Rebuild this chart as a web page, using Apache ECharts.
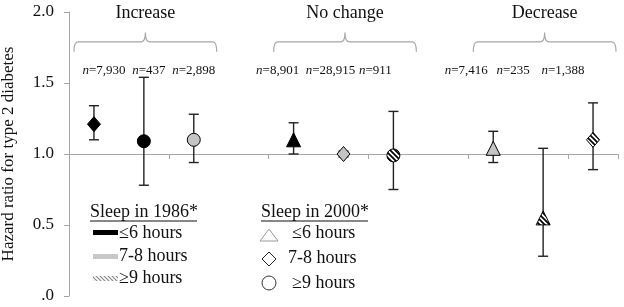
<!DOCTYPE html>
<html>
<head>
<meta charset="utf-8">
<script src="https://cdn.jsdelivr.net/npm/echarts@6/dist/echarts.min.js"></script>
<style>
html,body{margin:0;padding:0;background:#fff;}
#chart{width:624px;height:307px;}
</style>
</head>
<body>
<div id="chart"></div>
<script>
// ---- data ----
const categories = ['Inc ≤6→7-8', 'Inc ≤6→≥9', 'Inc 7-8→≥9', 'gap A',
                    'NC ≤6→≤6', 'NC 7-8→7-8', 'NC ≥9→≥9', 'gap B',
                    'Dec 7-8→≤6', 'Dec ≥9→≤6', 'Dec ≥9→7-8'];
const pointIndex = [0, 1, 2, 4, 5, 6, 8, 9, 10];
const hr = [1.21, 1.09, 1.10, 1.10, 1.00, 0.99, 1.04, 0.55, 1.10];
const lo = [1.10, 0.78, 0.94, 1.00, 0.98, 0.75, 0.94, 0.28, 0.89];
const hi = [1.34, 1.54, 1.28, 1.22, 1.02, 1.30, 1.16, 1.04, 1.36];
const sleep1986 = ['≤6', '≤6', '7-8', '≤6', '7-8', '≥9', '7-8', '≥9', '≥9'];
const sleep2000 = ['7-8', '≥9', '≥9', '≤6', '7-8', '≥9', '≤6', '≤6', '7-8'];
const nCounts = ['7,930', '437', '2,898', '8,901', '28,915', '911', '7,416', '235', '1,388'];
const groups = ['Increase', 'No change', 'Decrease'];
const groupStart = [0, 4, 8];
const groupEnd = [2, 6, 10];
const yTicks = [0, 0.5, 1.0, 1.5, 2.0];

// ---- layout / style (not data) ----
const nLabelShift = [10, 5, 0, -16, -13, -18, -27, -30, -30];
const FONT = "'Liberation Serif', 'Times New Roman', serif";
const GRAY = '#a6a6a6';

function makeHatch(color, size, lw) {
  const c = document.createElement('canvas');
  c.width = size; c.height = size;
  const g = c.getContext('2d');
  g.fillStyle = '#fff'; g.fillRect(0, 0, size, size);
  g.strokeStyle = color; g.lineWidth = lw;
  g.beginPath();
  g.moveTo(-1, -1); g.lineTo(size + 1, size + 1);
  g.moveTo(-1, size - 1); g.lineTo(1, size + 1);
  g.moveTo(size - 1, -1); g.lineTo(size + 1, 1);
  g.stroke();
  return c;
}
const hatch = { image: makeHatch('#000', 5, 1.7), repeat: 'repeat' };
const hatchLegend = { image: makeHatch('#888', 4, 1.1), repeat: 'repeat' };

const fillBy1986 = { '≤6': '#000000', '7-8': '#c4c4c4', '≥9': hatch };
const sizeBy2000 = { '≤6': [14, 14], '7-8': [13, 15], '≥9': [13, 13] };

function markerShape(kind, x, y, w, h) {
  if (kind === '≤6') {
    return { type: 'polygon', shape: { points: [[x - w / 2, y + h / 2], [x + w / 2, y + h / 2], [x, y - h / 2]] } };
  }
  if (kind === '7-8') {
    return { type: 'polygon', shape: { points: [[x, y - h / 2], [x + w / 2, y], [x, y + h / 2], [x - w / 2, y]] } };
  }
  return { type: 'circle', shape: { cx: x, cy: y, r: w / 2 } };
}

const chart = echarts.init(document.getElementById('chart'), null, { renderer: 'canvas' });

const gridTop = 12, gridBottom = 11;
const gridH = 307 - gridTop - gridBottom;
const yMin = 0, yMax = 2;

const option = {
  animation: false,
  grid: { left: 69, right: 6, top: gridTop, bottom: gridBottom, containLabel: false, outerBoundsMode: 'none' },
  xAxis: {
    type: 'category',
    data: categories,
    boundaryGap: true,
    offset: -gridH * (1.0 - yMin) / (yMax - yMin),
    axisLine: { show: true, lineStyle: { color: GRAY, width: 1 } },
    axisTick: { show: true, interval: 1, length: 5, lineStyle: { color: GRAY } },
    axisLabel: { show: false },
    splitLine: { show: false }
  },
  yAxis: {
    type: 'value',
    min: yMin, max: yMax, interval: 0.5,
    name: 'Hazard ratio for type 2 diabetes',
    nameLocation: 'middle',
    nameRotate: 90,
    nameGap: 52,
    nameTextStyle: { fontFamily: FONT, fontSize: 17, color: '#111' },
    axisLine: { show: true, lineStyle: { color: GRAY } },
    axisTick: { show: true, length: 5, lineStyle: { color: GRAY } },
    splitLine: { show: false },
    axisLabel: {
      fontFamily: FONT, fontSize: 17, color: '#111', margin: 15,
      formatter: v => (v === 0 ? '.0' : v.toFixed(1))
    }
  },
  series: [
    {
      type: 'custom',
      name: 'ci',
      z: 2,
      data: pointIndex.map((c, i) => [c, lo[i], hi[i]]),
      renderItem: function (params, api) {
        const pLo = api.coord([api.value(0), api.value(1)]);
        const pHi = api.coord([api.value(0), api.value(2)]);
        const cap = 5;
        const st = { stroke: '#222', lineWidth: 1.4 };
        return {
          type: 'group',
          children: [
            { type: 'line', shape: { x1: pLo[0], y1: pLo[1], x2: pHi[0], y2: pHi[1] }, style: st },
            { type: 'line', shape: { x1: pLo[0] - cap, y1: pLo[1], x2: pLo[0] + cap, y2: pLo[1] }, style: st },
            { type: 'line', shape: { x1: pHi[0] - cap, y1: pHi[1], x2: pHi[0] + cap, y2: pHi[1] }, style: st }
          ]
        };
      }
    },
    {
      type: 'custom',
      name: 'hr',
      z: 3,
      data: pointIndex.map((c, i) => [c, hr[i], i]),
      renderItem: function (params, api) {
        const i = api.value(2);
        const p = api.coord([api.value(0), api.value(1)]);
        const sz = sizeBy2000[sleep2000[i]];
        const el = markerShape(sleep2000[i], p[0], p[1], sz[0], sz[1]);
        el.style = { fill: fillBy1986[sleep1986[i]], stroke: '#000', lineWidth: 1 };
        return el;
      }
    },
    {
      type: 'custom',
      name: 'nlabels',
      z: 4,
      data: pointIndex.map((c, i) => [c, i]),
      renderItem: function (params, api) {
        const i = api.value(1);
        const p = api.coord([api.value(0), 1.59]);
        return {
          type: 'text',
          style: {
            text: '{i|n}=' + nCounts[i],
            x: p[0] + nLabelShift[i], y: p[1],
            align: 'center', verticalAlign: 'middle',
            font: '13px ' + FONT, fill: '#111',
            rich: { i: { fontStyle: 'italic', fontFamily: FONT, fontSize: 13, color: '#111' } }
          }
        };
      }
    },
    {
      type: 'custom',
      name: 'groups',
      z: 4,
      data: groups.map((g, k) => [groupStart[k], groupEnd[k], k]),
      renderItem: function (params, api) {
        const s = api.value(0), e = api.value(1), k = api.value(2);
        const band = api.size([1, 0])[0];
        const x0 = api.coord([s, 1.79])[0] - band / 2 + 5;
        const x1 = api.coord([e, 1.79])[0] + band / 2 - 2;
        const xc = (x0 + x1) / 2;
        const yTop = api.coord([s, 1.79])[1];
        const yTip = api.coord([s, 1.72])[1];
        const yNub = api.coord([s, 1.855])[1];
        const yText = api.coord([s, 1.99])[1];
        const r = 4;
        const path = 'M' + x0 + ' ' + yTip +
          ' Q' + x0 + ' ' + yTop + ' ' + (x0 + r) + ' ' + yTop +
          ' L' + (xc - r) + ' ' + yTop +
          ' Q' + xc + ' ' + yTop + ' ' + xc + ' ' + yNub +
          ' Q' + xc + ' ' + yTop + ' ' + (xc + r) + ' ' + yTop +
          ' L' + (x1 - r) + ' ' + yTop +
          ' Q' + x1 + ' ' + yTop + ' ' + x1 + ' ' + yTip;
        return {
          type: 'group',
          children: [
            { type: 'path', shape: { pathData: path }, style: { stroke: GRAY, lineWidth: 1.2, fill: null } },
            {
              type: 'text',
              style: {
                text: groups[k], x: xc, y: yText, align: 'center', verticalAlign: 'middle',
                font: '18px ' + FONT, fill: '#111'
              }
            }
          ]
        };
      }
    }
  ],
  graphic: [
    // Legend: sleep in 1986
    { type: 'text', left: 90, top: 203, style: { text: 'Sleep in 1986*', font: '18px ' + FONT, fill: '#111' } },
    { type: 'line', shape: { x1: 90, y1: 221, x2: 197, y2: 221 }, style: { stroke: '#111', lineWidth: 1 } },
    { type: 'rect', shape: { x: 93, y: 230, width: 25, height: 5 }, style: { fill: '#000' } },
    { type: 'text', left: 119, top: 224, style: { text: '≤6 hours', font: '18px ' + FONT, fill: '#111' } },
    { type: 'rect', shape: { x: 93, y: 254, width: 25, height: 5 }, style: { fill: '#c8c8c8' } },
    { type: 'text', left: 119, top: 247, style: { text: '7-8 hours', font: '18px ' + FONT, fill: '#111' } },
    { type: 'rect', shape: { x: 93, y: 276, width: 25, height: 5 }, style: { fill: hatchLegend } },
    { type: 'text', left: 119, top: 269, style: { text: '≥9 hours', font: '18px ' + FONT, fill: '#111' } },
    // Legend: sleep in 2000
    { type: 'text', left: 261, top: 203, style: { text: 'Sleep in 2000*', font: '18px ' + FONT, fill: '#111' } },
    { type: 'line', shape: { x1: 261, y1: 221, x2: 368, y2: 221 }, style: { stroke: '#111', lineWidth: 1 } },
    { type: 'polygon', shape: { points: [[260, 241], [278, 241], [269, 229]] }, style: { fill: '#fff', stroke: '#999', lineWidth: 1 } },
    { type: 'text', left: 292, top: 224, style: { text: '≤6 hours', font: '18px ' + FONT, fill: '#111' } },
    { type: 'polygon', shape: { points: [[262, 259], [269, 252], [276, 259], [269, 266]] }, style: { fill: '#fff', stroke: '#222', lineWidth: 1 } },
    { type: 'text', left: 288, top: 249, style: { text: '7-8 hours', font: '18px ' + FONT, fill: '#111' } },
    { type: 'circle', shape: { cx: 269, cy: 283, r: 7 }, style: { fill: '#fff', stroke: '#333', lineWidth: 1 } },
    { type: 'text', left: 292, top: 274, style: { text: '≥9 hours', font: '18px ' + FONT, fill: '#111' } }
  ]
};
chart.setOption(option);
</script>
</body>
</html>
